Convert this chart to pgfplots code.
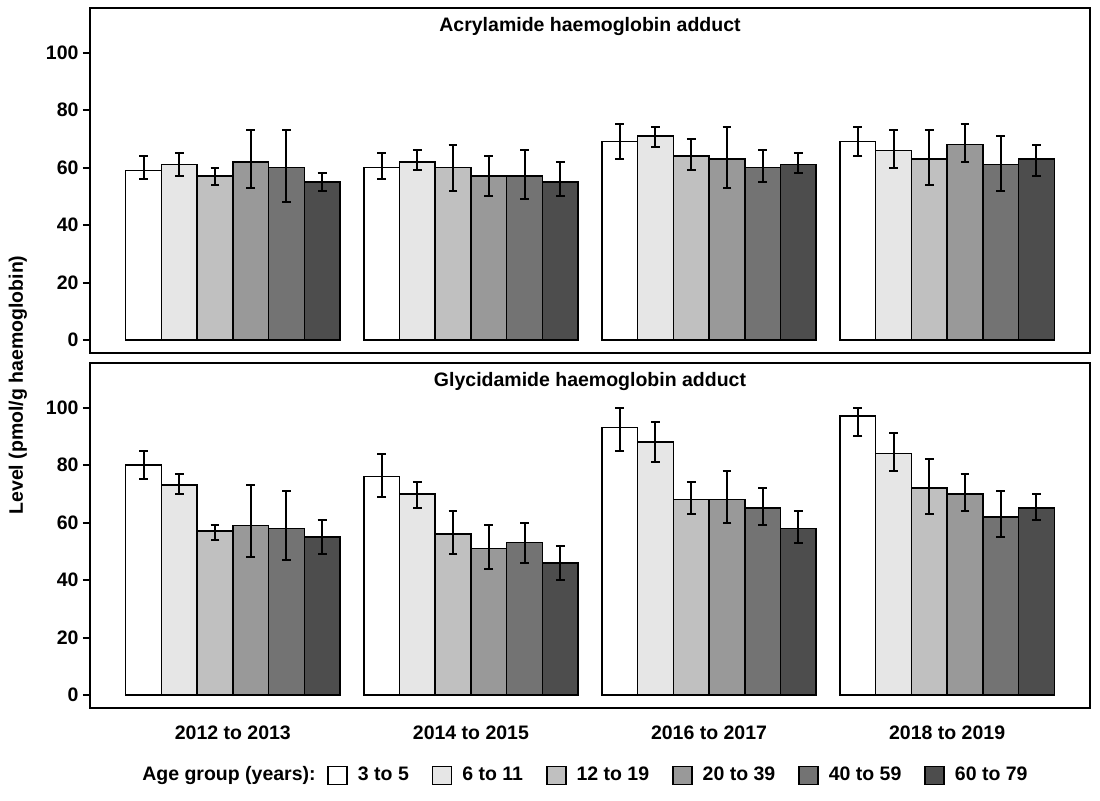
\documentclass[border=0pt]{standalone}
\usepackage{fontspec}
\setmainfont{Liberation Sans}
\usepackage{pgfplots}
\usepackage{pgfplotstable}
\pgfplotsset{compat=1.18}

\newcommand\myfont{\fontsize{9.75}{11.5}\selectfont\bfseries}

\definecolor{age1}{RGB}{255,255,255}
\definecolor{age2}{RGB}{230,230,230}
\definecolor{age3}{RGB}{192,192,192}
\definecolor{age4}{RGB}{153,153,153}
\definecolor{age5}{RGB}{115,115,115}
\definecolor{age6}{RGB}{77,77,77}

% rows = survey cycle, v = mean, l/h = lower/upper CI
\pgfplotstableread{
g v1 l1 h1 v2 l2 h2 v3 l3 h3 v4 l4 h4 v5 l5 h5 v6 l6 h6
0 59 56 64 61 57 65 57 54 60 62 53 73 60 48 73 55 52 58
1 60 56 65 62 59 66 60 52 68 57 50 64 57 49 66 55 50 62
2 69 63 75 71 67 74 64 59 70 63 53 74 60 55 66 61 58 65
3 69 64 74 66 60 73 63 54 73 68 62 75 61 52 71 63 57 68
}\acryl

\pgfplotstableread{
g v1 l1 h1 v2 l2 h2 v3 l3 h3 v4 l4 h4 v5 l5 h5 v6 l6 h6
0 80 75 85 73 70 77 57 54 59 59 48 73 58 47 71 55 49 61
1 76 69 84 70 65 74 56 49 64 51 44 59 53 46 60 46 40 52
2 93 85 100 88 81 95 68 63 74 68 60 78 65 59 72 58 53 64
3 97 90 100 84 78 91 72 63 82 70 64 77 62 55 71 65 61 70
}\glycid

\newcommand\agebar[3]{%
  \addplot[fill=#3] table[x=g, y=v#2,
    y error plus expr=\thisrow{h#2}-\thisrow{v#2},
    y error minus expr=\thisrow{v#2}-\thisrow{l#2}] {#1};}

\pgfplotsset{panel/.style={
  scale only axis, width=500pt, height=172.5pt,
  xmin=-0.6, xmax=3.6, ymin=-4.5, ymax=115.5,
  ybar=0pt, bar width=0.15,
  legend image code/.code={\draw[#1, line width=0.75pt] (0pt,-4.5pt) rectangle (9.5pt,4.5pt);},
  ytick={0,20,...,100}, xtick={0,1,2,3},
  tick align=outside, ytick pos=left, xtick pos=bottom,
  major tick length=3.5pt,
  xtick style={draw=none},
  ytick style={line width=1pt, black},
  axis line style={line width=1pt},
  /pgf/number format/assume math mode=true,
  ticklabel style={font=\myfont},
  yticklabel style={xshift=1.3pt},
  xticklabel style={yshift=-2pt},
  title style={font=\myfont, anchor=north, yshift=-7pt},
  every axis plot/.append style={draw=black, line width=0.75pt,
    /pgfplots/error bars/y dir=both, /pgfplots/error bars/y explicit,
    /pgfplots/error bars/error bar style={line width=1pt, black},
    /pgfplots/error bars/error mark options={rotate=90, mark size=2.2pt, line width=1pt, black}},
}}

\begin{document}
\begin{tikzpicture}
\path[use as bounding box] (0,0) rectangle (550pt,400pt);

\begin{axis}[panel, at={(45pt,223.5pt)}, anchor=south west,
  title={Acrylamide haemoglobin adduct}, xticklabels={}]
\agebar{\acryl}{1}{age1}
\agebar{\acryl}{2}{age2}
\agebar{\acryl}{3}{age3}
\agebar{\acryl}{4}{age4}
\agebar{\acryl}{5}{age5}
\agebar{\acryl}{6}{age6}
\end{axis}

\begin{axis}[panel, at={(45pt,46pt)}, anchor=south west,
  title={Glycidamide haemoglobin adduct},
  xticklabels={2012 to 2013, 2014 to 2015, 2016 to 2017, 2018 to 2019},
  legend columns=6,
  legend style={name=leg, draw=none, fill=none, inner sep=0pt,
    at={(0.5895,-0.195)}, anchor=center, font=\myfont,
    nodes={inner sep=2pt},
    /tikz/every odd column/.append style={column sep=3pt},
    /tikz/every even column/.append style={column sep=9.5pt}}]
\agebar{\glycid}{1}{age1}
\agebar{\glycid}{2}{age2}
\agebar{\glycid}{3}{age3}
\agebar{\glycid}{4}{age4}
\agebar{\glycid}{5}{age5}
\agebar{\glycid}{6}{age6}
\legend{3 to 5, 6 to 11, 12 to 19, 20 to 39, 40 to 59, 60 to 79}
\end{axis}

\node[anchor=east, font=\myfont, inner sep=0pt, xshift=-5.5pt] at (leg.west) {Age group (years):};
\node[rotate=90, font=\myfont] at (9pt,207.5pt) {Level (pmol/g haemoglobin)};
\end{tikzpicture}
\end{document}
